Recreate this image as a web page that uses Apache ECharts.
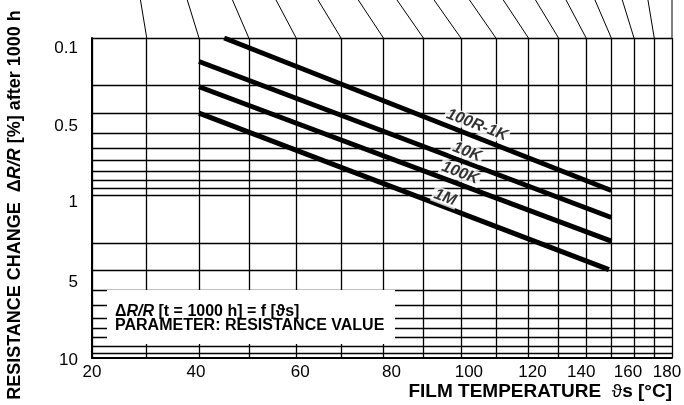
<!DOCTYPE html>
<html><head><meta charset="utf-8">
<script src="https://cdn.jsdelivr.net/npm/echarts@6/dist/echarts.min.js"></script>
<style>html,body{margin:0;padding:0;background:#fff}#c{width:684px;height:405px}</style>
</head><body><div id="c"></div>
<script>
// ---------------- data ----------------
const seriesNames = ['100R-1K', '10K', '100K', '1M'];
const startTemps = [45, 40, 40, 40];          // °C
const endTemps = [150, 150, 150, 149];        // °C
const startValues = [0.10, 0.141, 0.204, 0.30]; // ΔR/R %
const endValues = [0.93, 1.38, 1.95, 2.96];     // ΔR/R %
const labelTemps = [104.5, 101.7, 99.8, 95.7];
const labelValues = [0.357, 0.529, 0.72, 1.03];
const gridTemps = [20, 30, 40, 50, 60, 70, 80, 90, 100, 110, 120, 130, 140, 150, 160, 170, 180];
const xTickLabels = [20, 40, 60, 80, 100, 120, 140, 160, 180];
const gridValues = [0.1, 0.2, 0.3, 0.4, 0.5, 0.6, 0.7, 0.8, 0.9, 1, 2, 3, 4, 5, 6, 7, 8, 9, 10];
const yTickLabels = [0.1, 0.5, 1, 5, 10];
const connectorTemps = [30, 40, 50, 60, 70, 80, 90, 100, 110, 120, 130, 140, 150, 160, 170, 180];
const upperScaleValue = 0.0195; // level of the (cropped) upper linear temperature scale

// label nudges (styling only, px)
const xNudge = [0, -3, 4, 8, 8, 4, -5, -6, -5];
const yNudge = [10, -22, 7, -23, 7];

// ---------------- scales ----------------
const CURV = 1.544;
function r9(v) { return Math.round(v * 1e9) / 1e9; }
function tempPos(T) { const s = (T - 20) / 160; return r9(CURV * s - (CURV - 1) * s * s); }
function linearTempPos(T) { return r9((T - 20) / 160); }
function lg(v) { return r9(Math.log10(v)); }

const FONT = "'Liberation Sans', Arial, Helvetica, sans-serif";

const xRich = {}, yRich = {};
xTickLabels.forEach((t, i) => {
  const d = xNudge[i];
  xRich['x' + i] = { fontSize: 17, fontFamily: FONT, color: '#000', padding: d >= 0 ? [0, 0, 0, 2 * d] : [0, -2 * d, 0, 0] };
});
yTickLabels.forEach((t, i) => {
  const d = yNudge[i];
  yRich['y' + i] = { fontSize: 17, fontFamily: FONT, color: '#000', padding: d >= 0 ? [2 * d, 0, 0, 0] : [0, 0, -2 * d, 0] };
});

const series = [];
connectorTemps.forEach(T => {
  series.push({
    type: 'line', silent: true, clip: false, symbol: 'none', animation: false,
    data: [[tempPos(T), lg(0.1)], [linearTempPos(T), lg(upperScaleValue)]],
    lineStyle: { color: '#000', width: 1 }, z: 1
  });
});
seriesNames.forEach((n, i) => {
  series.push({
    type: 'line', name: n, symbol: 'none', animation: false,
    data: [[tempPos(startTemps[i]), lg(startValues[i])], [tempPos(endTemps[i]), lg(endValues[i])]],
    lineStyle: { color: '#000', width: 5, cap: 'butt' }, z: 3
  });
});
series.push({
  type: 'scatter', symbolSize: 0, animation: false, silent: true, z: 5,
  data: seriesNames.map((n, i) => ({ name: n, value: [tempPos(labelTemps[i]), lg(labelValues[i])] })),
  label: {
    show: true, position: 'inside', formatter: '{b}', rotate: -21,
    fontSize: 16, fontWeight: 'bold', fontStyle: 'italic', fontFamily: FONT, color: '#000',
    backgroundColor: '#fff', padding: [0, 2, 0, 2]
  }
});

const chart = echarts.init(document.getElementById('c'), null, { renderer: 'canvas' });
chart.setOption({
  backgroundColor: '#fff',
  animation: false,
  grid: { left: 92, right: 12, top: 38, bottom: 47, containLabel: false, outerBoundsMode: 'none' },
  xAxis: {
    type: 'value', min: 0, max: 1,
    axisLine: { show: true, onZero: false, lineStyle: { color: '#000', width: 2 } },
    axisTick: { show: false, customValues: gridTemps.map(tempPos) },
    splitLine: { show: true, lineStyle: { color: '#000', width: 1.3 } },
    axisLabel: {
      customValues: xTickLabels.map(tempPos), margin: 6, fontSize: 17, fontFamily: FONT, color: '#000', rich: xRich,
      formatter: v => { const i = xTickLabels.findIndex(t => Math.abs(tempPos(t) - v) < 1e-6); return i < 0 ? '' : '{x' + i + '|' + xTickLabels[i] + '}'; }
    }
  },
  yAxis: {
    type: 'value', inverse: true, min: -1, max: 1.032,
    axisLine: { show: true, onZero: false, lineStyle: { color: '#000', width: 2 } },
    axisTick: { show: false, customValues: gridValues.map(lg) },
    splitLine: { show: true, lineStyle: { color: '#000', width: 1.3 } },
    axisLabel: {
      customValues: yTickLabels.map(lg), margin: 14, fontSize: 17, fontFamily: FONT, color: '#000', rich: yRich,
      formatter: v => { const i = yTickLabels.findIndex(t => Math.abs(lg(t) - v) < 1e-6); return i < 0 ? '' : '{y' + i + '|' + yTickLabels[i] + '}'; }
    }
  },
  graphic: [
    { type: 'rect', z: 10, shape: { x: 107, y: 290, width: 288, height: 54 }, style: { fill: '#fff' } },
    { type: 'text', z: 11, x: 115, y: 305,
      style: {
        text: '{b|Δ}{bi|R/R}{b| [t = 1000 h] = f [ϑs]}\n{b|PARAMETER: RESISTANCE VALUE}',
        verticalAlign: 'top', align: 'left', fill: '#000',
        rich: {
          b: { fontSize: 16, fontWeight: 'bold', fontFamily: FONT, lineHeight: 14 },
          bi: { fontSize: 16, fontWeight: 'bold', fontStyle: 'italic', fontFamily: FONT, lineHeight: 14 }
        }
      } },
    { type: 'text', z: 11, x: 672, y: 392,
      style: {
        text: '{b|FILM TEMPERATURE  }{t|ϑ}{b|s [°C]}', align: 'right', verticalAlign: 'middle', fill: '#000',
        rich: {
          b: { fontSize: 19, fontWeight: 'bold', fontFamily: FONT },
          t: { fontSize: 19, fontFamily: FONT }
        }
      } },
    { type: 'text', z: 11, x: 15, y: 205, rotation: Math.PI / 2,
      style: {
        text: '{b|RESISTANCE CHANGE  Δ}{bi|R/R}{b| [%] after 1000 h}', align: 'center', verticalAlign: 'middle', fill: '#000',
        rich: {
          b: { fontSize: 18, fontWeight: 'bold', fontFamily: FONT },
          bi: { fontSize: 18, fontWeight: 'bold', fontStyle: 'italic', fontFamily: FONT }
        }
      } }
  ],
  series: series
});
</script>
</body></html>
